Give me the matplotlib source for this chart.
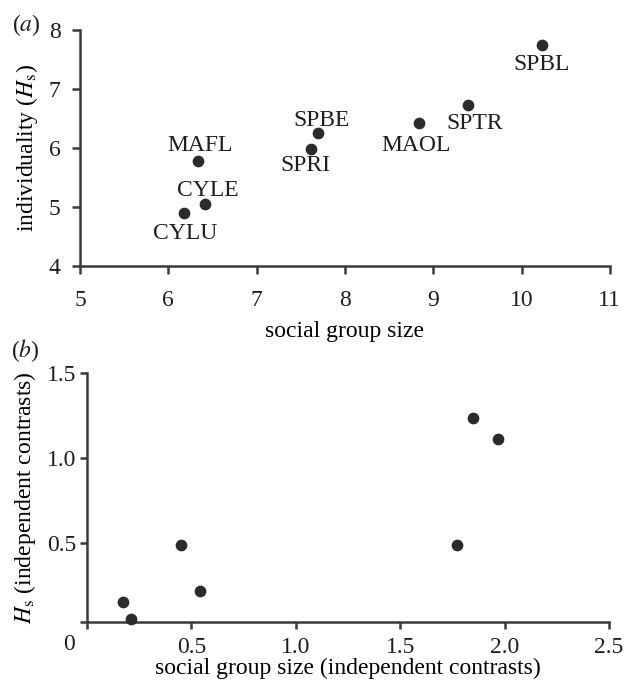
import numpy as np
import matplotlib
matplotlib.use('Agg')
import matplotlib.pyplot as plt

# === data ===
species = ['CYLU', 'CYLE', 'MAFL', 'SPRI', 'SPBE', 'MAOL', 'SPTR', 'SPBL']
group_size = [6.18, 6.42, 6.34, 7.62, 7.69, 8.84, 9.39, 10.23]
hs = [4.90, 5.05, 5.78, 5.98, 6.25, 6.43, 6.73, 7.75]
# label offsets in points (dx, dy)
label_offsets = [(0.7, -14.5), (2, 10), (1, 11), (-4.5, -11.5), (3, 9.5), (-2, -16.5), (5, -13), (0, -14.5)]

contrast_size = [0.17, 0.21, 0.45, 0.54, 1.77, 1.85, 1.97]
contrast_hs = [0.15, 0.05, 0.49, 0.22, 0.49, 1.235, 1.11]

plt.rcParams['font.family'] = ['Liberation Serif', 'DejaVu Serif']
plt.rcParams['mathtext.fontset'] = 'stix'
plt.rcParams['font.size'] = 17
plt.rcParams['text.color'] = '#1e1e1e'
plt.rcParams['xtick.color'] = '#1e1e1e'
plt.rcParams['ytick.color'] = '#1e1e1e'

spine_col = '#3a3a3a'
dot_col = '#2b2b2b'
fs = 17

fig = plt.figure(figsize=(6.27, 6.81), dpi=100)

# === panel (a) ===
ax1 = fig.add_axes([0.1276, 0.609, 0.845, 0.347])
ax1.scatter(group_size, hs, s=55, color=dot_col, zorder=3)
for name, x, y, (dx, dy) in zip(species, group_size, hs, label_offsets):
    ax1.annotate(name, (x, y), xytext=(dx, dy), textcoords='offset points',
                 ha='center', va='center', fontsize=fs)
ax1.set_xlim(5, 11)
ax1.set_ylim(4, 8)
ax1.set_xticks(np.arange(5, 12, 1))
ax1.set_yticks(np.arange(4, 9, 1))
ax1.set_xlabel('social group size', labelpad=7)
ax1.set_ylabel(r'individuality ($H_\mathrm{s}$)', labelpad=6)
ax1.tick_params(axis='x', pad=11, length=6)
ax1.tick_params(axis='y', pad=8, length=6)

# === panel (b) ===
ax2 = fig.add_axes([0.1388, 0.0866, 0.8325, 0.3657])
ax2.scatter(contrast_size, contrast_hs, s=55, color=dot_col, zorder=3, clip_on=False)
ax2.set_xlim(0, 2.5)
ax2.set_ylim(0.035, 1.5)
ax2.set_xticks([0, 0.5, 1.0, 1.5, 2.0, 2.5])
ax2.set_xticklabels(['', '0.5', '1.0', '1.5', '2.0', '2.5'])
ax2.set_yticks([0.035, 0.5, 1.0, 1.5])
ax2.set_yticklabels(['', '0.5', '1.0', '1.5'])
ax2.annotate('0', (0, 0.035), xytext=(-13, -16), textcoords='offset points',
             ha='center', va='center', fontsize=fs)
ax2.set_xlabel('social group size (independent contrasts)', labelpad=0)
ax2.set_ylabel(r'$H_\mathrm{s}$ (independent contrasts)', labelpad=6)
ax2.tick_params(axis='x', pad=6, length=5)
ax2.tick_params(axis='y', pad=3, length=5)

for ax in (ax1, ax2):
    for side in ('top', 'right'):
        ax.spines[side].set_visible(False)
    for side in ('left', 'bottom'):
        ax.spines[side].set_color(spine_col)
        ax.spines[side].set_linewidth(1.8)
    ax.tick_params(direction='out', width=1.8, color=spine_col, labelsize=fs)

fig.text(0.042, 0.963, r'($\mathit{a}$)', fontsize=fs, ha='center', va='center')
fig.text(0.040, 0.486, r'($\mathit{b}$)', fontsize=fs, ha='center', va='center')

fig.savefig('out.png', dpi=100)
